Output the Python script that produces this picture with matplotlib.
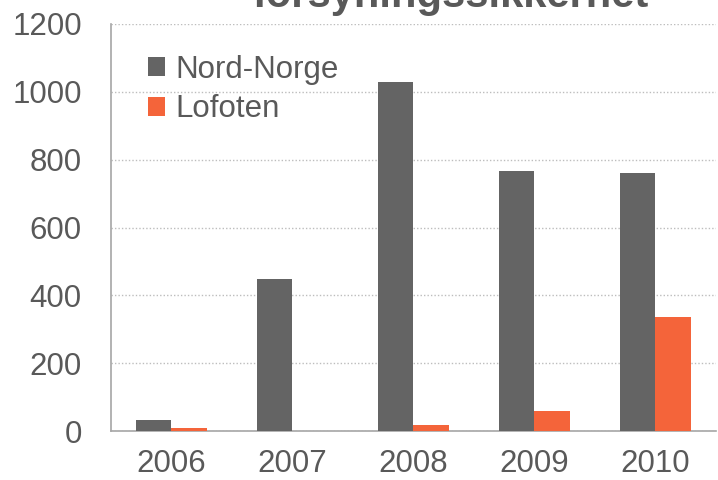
import matplotlib
matplotlib.use("Agg")
import matplotlib.pyplot as plt
import numpy as np

plt.rcParams["font.family"] = ["Liberation Sans", "DejaVu Sans"]

years = ["2006", "2007", "2008", "2009", "2010"]
nord_norge = [32, 448, 1029, 767, 761]
lofoten = [8, 0, 17, 59, 336]

GREY = "#646464"
ORANGE = "#F4643A"
TEXT = "#595959"

fig = plt.figure(figsize=(7.18, 4.8), dpi=100)
ax = fig.add_axes([0.1546, 0.102, 0.8424, 0.848])

x = np.arange(len(years))
width = 0.295
ax.bar(x - width / 2, nord_norge, width, color=GREY, label="Nord-Norge", zorder=3)
ax.bar(x + width / 2, lofoten, width, color=ORANGE, label="Lofoten", zorder=3)

ax.set_xlim(-0.5, len(years) - 0.5)
ax.set_ylim(0, 1200)
ax.set_yticks(range(0, 1201, 200))
ax.set_xticks(x)
ax.set_xticklabels(years)

ax.yaxis.grid(True, linestyle=(0, (1, 1.5)), color="#BDBDBD", linewidth=1, zorder=0)
ax.set_axisbelow(True)
for side in ("top", "right"):
    ax.spines[side].set_visible(False)
for side in ("left", "bottom"):
    ax.spines[side].set_color("#A6A6A6")
    ax.spines[side].set_linewidth(1.2)

ax.tick_params(axis="both", length=0, labelsize=22.5, colors=TEXT)
ax.tick_params(axis="y", pad=21)
ax.tick_params(axis="x", pad=13)

leg = ax.legend(loc="upper left", bbox_to_anchor=(0.04, 0.955), frameon=False,
                fontsize=22.5, handlelength=0.55, handleheight=0.55,
                handletextpad=0.35, labelspacing=0.3, borderaxespad=0)
for t in leg.get_texts():
    t.set_color(TEXT)

fig.text(450 / 718, 1 - 7 / 480, "forsyningssikkerhet", ha="center", va="baseline",
         fontsize=30, fontweight="bold", color=TEXT)

fig.savefig("out.png", dpi=100)
